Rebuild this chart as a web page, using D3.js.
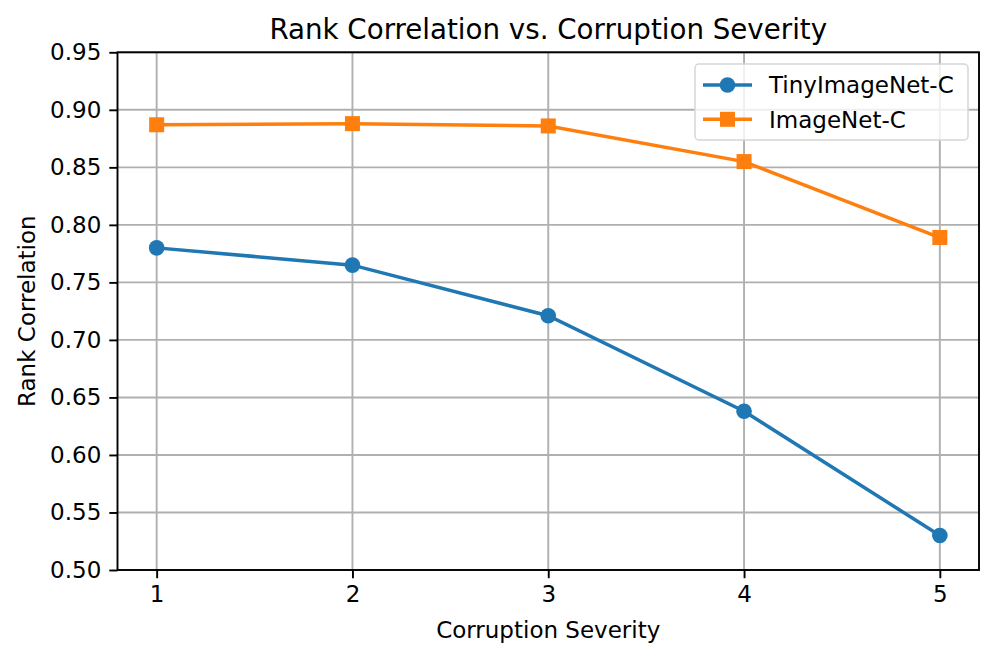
<!DOCTYPE html>
<html>
<head>
<meta charset="utf-8">
<script src="https://cdn.jsdelivr.net/npm/d3@7"></script>
<style>
  body { margin: 0; background: #fff; }
  text { font-family: "DejaVu Sans", sans-serif; fill: #000; }
</style>
</head>
<body>
<div id="chart"></div>
<script>
// Chart data
const severities = [1, 2, 3, 4, 5];
const tinyImageNet = [0.780, 0.765, 0.721, 0.638, 0.530];
const imageNet = [0.887, 0.888, 0.886, 0.855, 0.789];
const yTicks = [0.50, 0.55, 0.60, 0.65, 0.70, 0.75, 0.80, 0.85, 0.90, 0.95];
const seriesNames = ["TinyImageNet-C", "ImageNet-C"];
const seriesColours = ["#1f77b4", "#ff7f0e"];

function drawChart() {
  const width = 997;
  const height = 659;
  const margin = { top: 52.3, right: 18, bottom: 89, left: 117.5 };
  const innerW = width - margin.left - margin.right;
  const innerH = height - margin.top - margin.bottom;
  const fontSize = '23px';

  const svg = d3.select('#chart')
    .append('svg')
    .attr('width', width)
    .attr('height', height);

  const g = svg.append('g')
    .attr('transform', `translate(${margin.left},${margin.top})`);

  const x = d3.scaleLinear().domain([0.8, 5.2]).range([0, innerW]);
  const y = d3.scaleLinear().domain([0.50, 0.95]).range([innerH, 0]);

  // Grid
  g.selectAll('.vgrid')
    .data(severities)
    .enter()
    .append('line')
    .attr('x1', d => x(d)).attr('x2', d => x(d))
    .attr('y1', 0).attr('y2', innerH)
    .style('stroke', '#b0b0b0')
    .style('stroke-width', 1.9);

  g.selectAll('.hgrid')
    .data(yTicks)
    .enter()
    .append('line')
    .attr('x1', 0).attr('x2', innerW)
    .attr('y1', d => y(d)).attr('y2', d => y(d))
    .style('stroke', '#b0b0b0')
    .style('stroke-width', 1.9);

  // Axes
  const xAxis = g.append('g')
    .attr('transform', `translate(0,${innerH})`)
    .call(d3.axisBottom(x).tickValues(severities).tickSize(8.2).tickPadding(7).tickFormat(d3.format('d')));

  const yAxis = g.append('g')
    .call(d3.axisLeft(y).tickValues(yTicks).tickSize(8.2).tickPadding(8).tickFormat(d3.format('.2f')));

  [xAxis, yAxis].forEach(ax => {
    ax.select('.domain').remove();
    ax.selectAll('line').style('stroke', '#000').style('stroke-width', 1.9);
    ax.selectAll('text')
      .style('font-size', fontSize)
      .style('font-family', '"DejaVu Sans", sans-serif')
      .style('fill', '#000');
  });

  // Frame
  g.append('rect')
    .attr('x', 0).attr('y', 0)
    .attr('width', innerW).attr('height', innerH)
    .style('fill', 'none')
    .style('stroke', '#000')
    .style('stroke-width', 1.9);

  // Lines and markers
  const line = d3.line()
    .x((d, i) => x(severities[i]))
    .y(d => y(d));

  const allSeries = [tinyImageNet, imageNet];

  allSeries.forEach((vals, s) => {
    g.append('path')
      .datum(vals)
      .attr('d', line)
      .style('fill', 'none')
      .style('stroke', seriesColours[s])
      .style('stroke-width', 3.5);
  });

  g.selectAll('.dot')
    .data(tinyImageNet)
    .enter()
    .append('circle')
    .attr('cx', (d, i) => x(severities[i]))
    .attr('cy', d => y(d))
    .attr('r', 7.8)
    .style('fill', seriesColours[0]);

  const sq = 15;
  g.selectAll('.sq')
    .data(imageNet)
    .enter()
    .append('rect')
    .attr('x', (d, i) => x(severities[i]) - sq / 2)
    .attr('y', d => y(d) - sq / 2)
    .attr('width', sq)
    .attr('height', sq)
    .style('fill', seriesColours[1]);

  // Legend
  const legend = g.append('g')
    .attr('transform', `translate(${695 - margin.left},${64 - margin.top})`);

  legend.append('rect')
    .attr('width', 273).attr('height', 76)
    .attr('rx', 4)
    .style('fill', '#fff')
    .style('fill-opacity', 0.8)
    .style('stroke', '#d6d6d6')
    .style('stroke-width', 1.5);

  seriesNames.forEach((name, s) => {
    const ly = 21 + s * 34.3;
    legend.append('line')
      .attr('x1', 8).attr('x2', 57)
      .attr('y1', ly).attr('y2', ly)
      .style('stroke', seriesColours[s])
      .style('stroke-width', 3.5);
    if (s === 0) {
      legend.append('circle')
        .attr('cx', 32.5).attr('cy', ly).attr('r', 7.8)
        .style('fill', seriesColours[s]);
    } else {
      legend.append('rect')
        .attr('x', 32.5 - sq / 2).attr('y', ly - sq / 2)
        .attr('width', sq).attr('height', sq)
        .style('fill', seriesColours[s]);
    }
    legend.append('text')
      .attr('x', 74).attr('y', ly)
      .attr('dy', '0.36em')
      .style('font-size', fontSize)
      .text(name);
  });

  // Titles
  svg.append('text')
    .attr('x', margin.left + innerW / 2)
    .attr('y', 39)
    .attr('text-anchor', 'middle')
    .style('font-size', '27.7px')
    .text('Rank Correlation vs. Corruption Severity');

  svg.append('text')
    .attr('x', margin.left + innerW / 2)
    .attr('y', 638)
    .attr('text-anchor', 'middle')
    .style('font-size', fontSize)
    .text('Corruption Severity');

  svg.append('text')
    .attr('transform', `translate(35,${margin.top + innerH / 2}) rotate(-90)`)
    .attr('text-anchor', 'middle')
    .style('font-size', fontSize)
    .text('Rank Correlation');
}

window.onload = function () {
  drawChart();
};
</script>
</body>
</html>
